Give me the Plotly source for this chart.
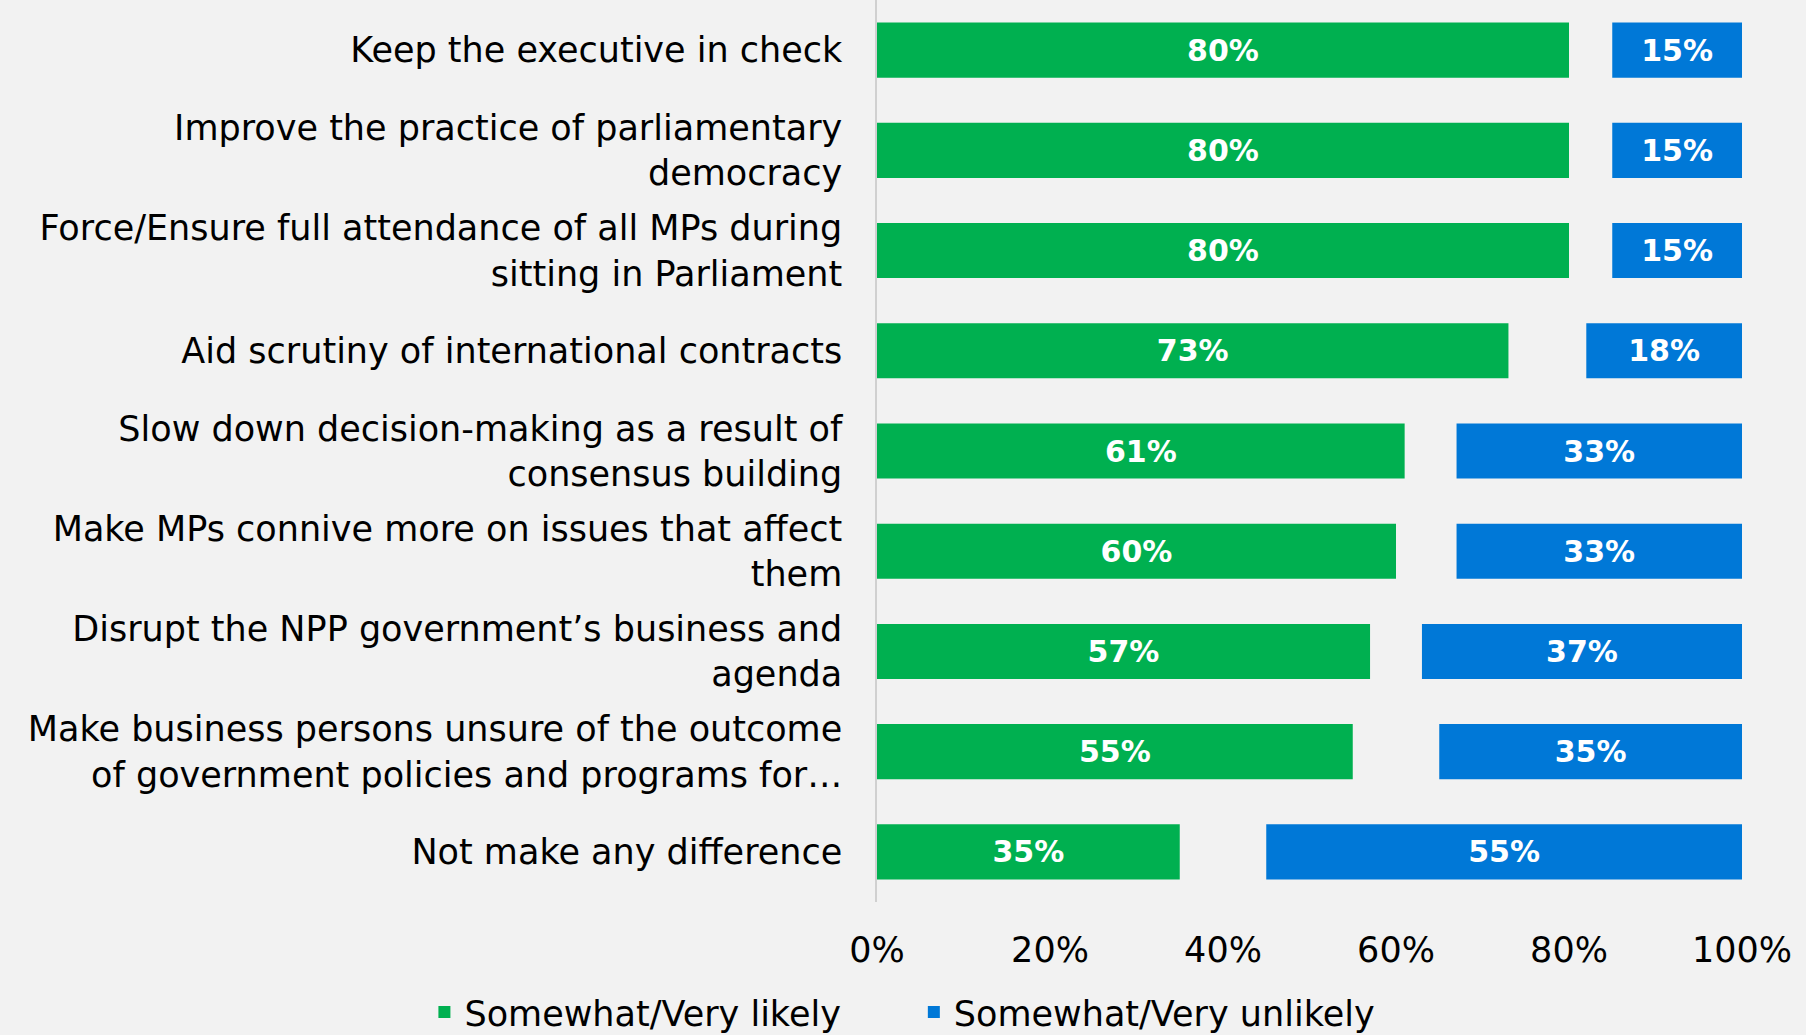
import plotly.graph_objects as go

categories = [
    "Keep the executive in check",
    "Improve the practice of parliamentary<br>democracy",
    "Force/Ensure full attendance of all MPs during<br>sitting in Parliament",
    "Aid scrutiny of international contracts",
    "Slow down decision-making as a result of<br>consensus building",
    "Make MPs connive more on issues that affect<br>them",
    "Disrupt the NPP government\u2019s business and<br>agenda",
    "Make business persons unsure of the outcome<br>of government policies and programs for\u2026",
    "Not make any difference",
]
likely = [80, 80, 80, 73, 61, 60, 57, 55, 35]
unlikely = [15, 15, 15, 18, 33, 33, 37, 35, 55]
x_ticks = [0, 20, 40, 60, 80, 100]
x_tick_labels = ["0%", "20%", "40%", "60%", "80%", "100%"]

GREEN = "#00B050"
BLUE = "#0078D7"
FONT = "DejaVu Sans"
LABEL_SIZE = 35

fig = go.Figure()
fig.add_trace(go.Bar(
    y=categories, x=likely, orientation="h", name="Somewhat/Very likely",
    marker=dict(color=GREEN, line=dict(width=0)),
    text=[f"{v}%" for v in likely], textposition="inside",
    insidetextanchor="middle", textangle=0,
    textfont=dict(family=FONT, size=30, color="white", weight="bold"),
    width=0.55, legend="legend",
))
fig.add_trace(go.Bar(
    y=categories, x=unlikely, base=[100 - u for u in unlikely], orientation="h",
    name="Somewhat/Very unlikely",
    marker=dict(color=BLUE, line=dict(width=0)),
    text=[f"{v}%" for v in unlikely], textposition="inside",
    insidetextanchor="middle", textangle=0,
    textfont=dict(family=FONT, size=30, color="white", weight="bold"),
    width=0.55, legend="legend2",
))

legend_common = dict(
    orientation="h", xref="container", yref="container",
    xanchor="left", y=0.022, yanchor="middle",
    font=dict(family=FONT, size=LABEL_SIZE, color="black"),
    bgcolor="rgba(0,0,0,0)",
)

fig.update_layout(
    width=1806, height=1035,
    barmode="overlay",
    paper_bgcolor="#f2f2f2", plot_bgcolor="#f2f2f2",
    margin=dict(l=877, r=64, t=0, b=133, autoexpand=False),
    font=dict(family=FONT, size=LABEL_SIZE, color="black"),
    legend=dict(x=0.235, **legend_common),
    legend2=dict(x=0.506, **legend_common),
    showlegend=True,
)
fig.update_xaxes(
    range=[0, 100], tickvals=x_ticks, ticktext=x_tick_labels,
    showgrid=False, zeroline=False, showline=False,
    ticks="", ticklabelstandoff=24,
    tickfont=dict(family=FONT, size=LABEL_SIZE, color="black"),
)
fig.update_yaxes(
    autorange="reversed", showgrid=False, zeroline=False,
    showline=True, linecolor="#d0d0d0", linewidth=1.5,
    ticks="", ticklabelstandoff=26,
    tickfont=dict(family=FONT, size=LABEL_SIZE, color="black"),
)

fig.write_html(
    "out.html",
    config={"displayModeBar": False},
    post_script="document.body.style.margin='0';",
)
